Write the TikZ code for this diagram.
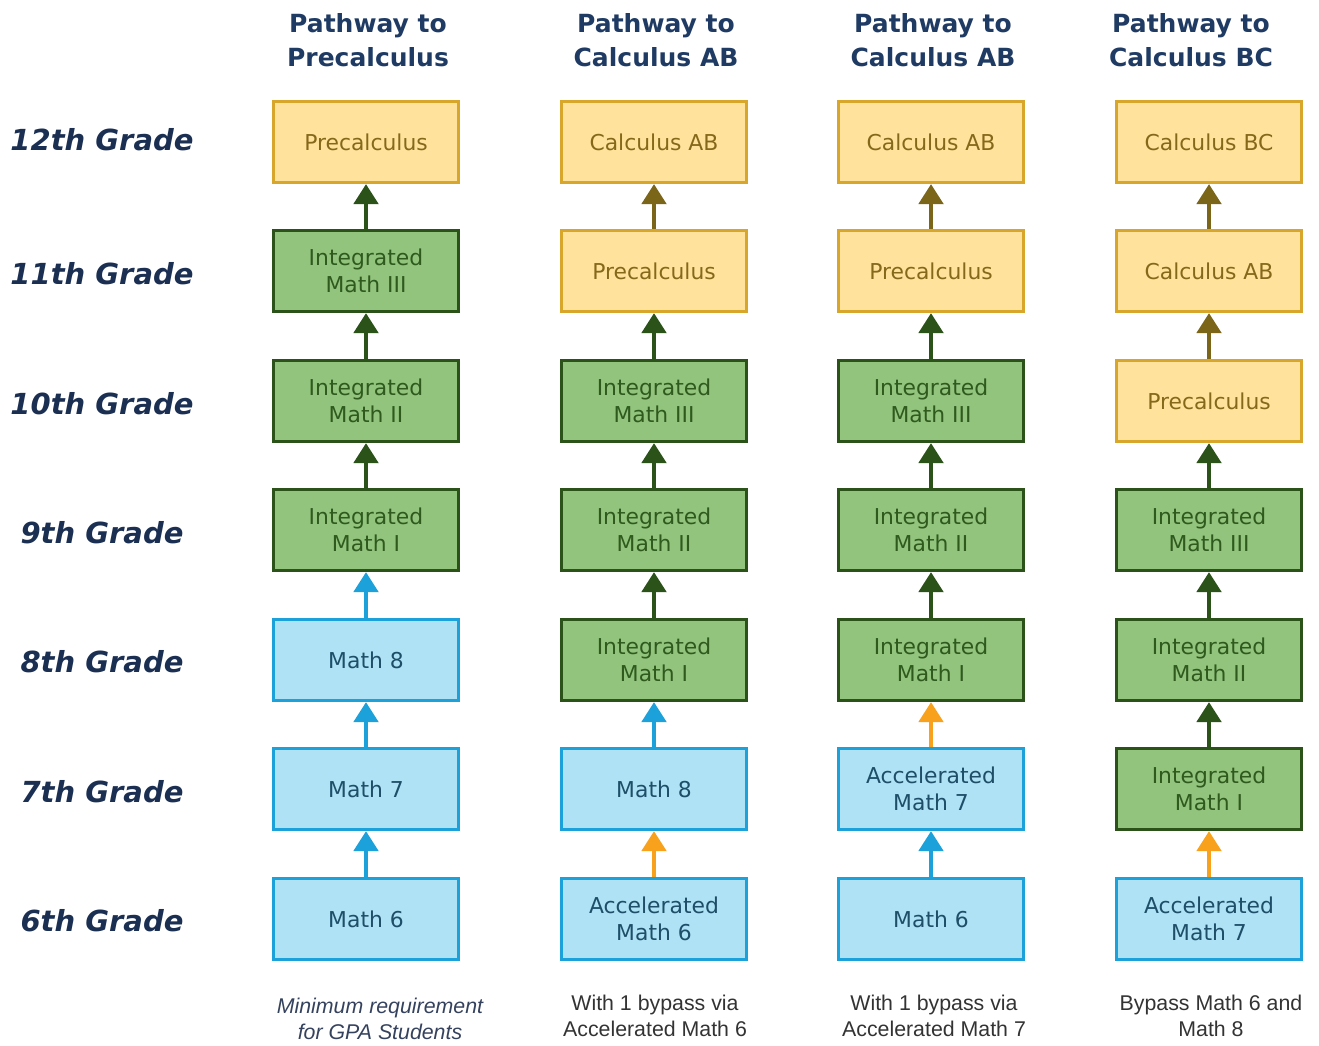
\documentclass[tikz,border=0pt]{standalone}
\usepackage{fontspec}
\setmainfont{DejaVu Sans}
\newfontfamily\capfont{Liberation Sans}
\usetikzlibrary{arrows.meta}
\definecolor{yfill}{HTML}{FFE39C}
\definecolor{ydraw}{HTML}{D9A62C}
\definecolor{ytext}{HTML}{86681A}
\definecolor{gfill}{HTML}{93C47D}
\definecolor{gdraw}{HTML}{2B5219}
\definecolor{gtext}{HTML}{2E5A1E}
\definecolor{bfill}{HTML}{AEE2F4}
\definecolor{bdraw}{HTML}{1CA1DA}
\definecolor{btext}{HTML}{1E4E68}
\definecolor{oarrow}{HTML}{F7A11C}
\definecolor{olarrow}{HTML}{7A6519}
\definecolor{navy}{HTML}{1B2F52}
\definecolor{headc}{HTML}{1F3B63}
\definecolor{capc}{HTML}{333333}
\definecolor{capi}{HTML}{35425E}
\begin{document}
\begin{tikzpicture}[x=0.75pt,y=-0.75pt,
  box/.style={draw, line width=2.25pt, minimum width=139pt, minimum height=61pt,
    align=center, inner sep=0pt, font=\fontsize{16.4pt}{20.5pt}\selectfont},
  ybox/.style={box, fill=yfill, draw=ydraw, text=ytext},
  gbox/.style={box, fill=gfill, draw=gdraw, text=gtext},
  bbox/.style={box, fill=bfill, draw=bdraw, text=btext},
  arr/.style={line width=2.4pt, -{Triangle[width=18.5pt,length=15pt]}},
  ga/.style={arr, draw=gdraw},
  ba/.style={arr, draw=bdraw},
  oa/.style={arr, draw=oarrow},
  la/.style={arr, draw=olarrow},
  grade/.style={font=\fontsize{21.75pt}{26pt}\selectfont\bfseries\itshape, text=navy},
  head/.style={font=\fontsize{18.75pt}{25.5pt}\selectfont\bfseries, text=headc, align=center},
  captxt/.style={font=\capfont\fontsize{16pt}{19.5pt}\selectfont, text=capc, align=center}
]
\useasboundingbox (0,0) rectangle (1319,1045);
% headers
\node[head] (h1) at (368,40) {Pathway to\\Precalculus};
\node[head] (h2) at (656,40) {Pathway to\\Calculus AB};
\node[head] (h3) at (933,40) {Pathway to\\Calculus AB};
\node[head] (h4) at (1191,40) {Pathway to\\Calculus BC};
% grade labels
\node[grade] (g12) at (102,140) {12th Grade};
\node[grade] (g11) at (102,274) {11th Grade};
\node[grade] (g10) at (102,404) {10th Grade};
\node[grade] (g9) at (102,533) {9th Grade};
\node[grade] (g8) at (102,662) {8th Grade};
\node[grade] (g7) at (102,792) {7th Grade};
\node[grade] (g6) at (102,921) {6th Grade};
% column 1
\node[ybox] (a12) at (366,142) {Precalculus};
\node[gbox] (a11) at (366,271) {Integrated\\Math III};
\node[gbox] (a10) at (366,401) {Integrated\\Math II};
\node[gbox] (a9) at (366,530) {Integrated\\Math I};
\node[bbox] (a8) at (366,660) {Math 8};
\node[bbox] (a7) at (366,789) {Math 7};
\node[bbox] (a6) at (366,919) {Math 6};
% column 2
\node[ybox] (b12) at (654,142) {Calculus AB};
\node[ybox] (b11) at (654,271) {Precalculus};
\node[gbox] (b10) at (654,401) {Integrated\\Math III};
\node[gbox] (b9) at (654,530) {Integrated\\Math II};
\node[gbox] (b8) at (654,660) {Integrated\\Math I};
\node[bbox] (b7) at (654,789) {Math 8};
\node[bbox] (b6) at (654,919) {Accelerated\\Math 6};
% column 3
\node[ybox] (c12) at (931,142) {Calculus AB};
\node[ybox] (c11) at (931,271) {Precalculus};
\node[gbox] (c10) at (931,401) {Integrated\\Math III};
\node[gbox] (c9) at (931,530) {Integrated\\Math II};
\node[gbox] (c8) at (931,660) {Integrated\\Math I};
\node[bbox] (c7) at (931,789) {Accelerated\\Math 7};
\node[bbox] (c6) at (931,919) {Math 6};
% column 4
\node[ybox] (d12) at (1209,142) {Calculus BC};
\node[ybox] (d11) at (1209,271) {Calculus AB};
\node[ybox] (d10) at (1209,401) {Precalculus};
\node[gbox] (d9) at (1209,530) {Integrated\\Math III};
\node[gbox] (d8) at (1209,660) {Integrated\\Math II};
\node[gbox] (d7) at (1209,789) {Integrated\\Math I};
\node[bbox] (d6) at (1209,919) {Accelerated\\Math 7};
% arrows column 1
\draw[ba] (a6) -- (a7);
\draw[ba] (a7) -- (a8);
\draw[ba] (a8) -- (a9);
\draw[ga] (a9) -- (a10);
\draw[ga] (a10) -- (a11);
\draw[ga] (a11) -- (a12);
% arrows column 2
\draw[oa] (b6) -- (b7);
\draw[ba] (b7) -- (b8);
\draw[ga] (b8) -- (b9);
\draw[ga] (b9) -- (b10);
\draw[ga] (b10) -- (b11);
\draw[la] (b11) -- (b12);
% arrows column 3
\draw[ba] (c6) -- (c7);
\draw[oa] (c7) -- (c8);
\draw[ga] (c8) -- (c9);
\draw[ga] (c9) -- (c10);
\draw[ga] (c10) -- (c11);
\draw[la] (c11) -- (c12);
% arrows column 4
\draw[oa] (d6) -- (d7);
\draw[ga] (d7) -- (d8);
\draw[ga] (d8) -- (d9);
\draw[ga] (d9) -- (d10);
\draw[la] (d10) -- (d11);
\draw[la] (d11) -- (d12);
% captions
\node[captxt, text=capi, font=\capfont\fontsize{16pt}{19.5pt}\selectfont\itshape] (k1) at (380,1019) {Minimum requirement\\for GPA Students};
\node[captxt] (k2) at (655,1016) {With 1 bypass via\\Accelerated Math 6};
\node[captxt] (k3) at (934,1016) {With 1 bypass via\\Accelerated Math 7};
\node[captxt] (k4) at (1211,1016) {Bypass Math 6 and\\Math 8};
\end{tikzpicture}
\end{document}
